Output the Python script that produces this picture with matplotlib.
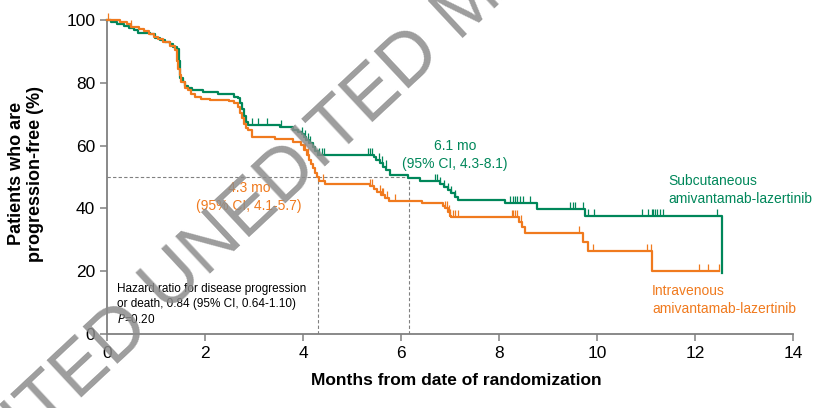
import numpy as np
import matplotlib
matplotlib.use("Agg")
import matplotlib.pyplot as plt

plt.rcParams['font.family'] = ['Liberation Sans', 'DejaVu Sans']

GREEN = '#00875a'
ORANGE = '#f07a1e'

# subcutaneous arm: step times (months) and % progression-free after each step
sc_t = [0, 0.08, 0.2, 0.35, 0.45, 0.55, 0.63, 0.88, 0.98, 1.08, 1.18, 1.28, 1.35, 1.43,
        1.46, 1.48, 1.5, 1.55, 1.6, 1.65, 1.73, 1.95, 2.27, 2.6, 2.67, 2.72, 2.76, 2.8,
        2.84, 2.88, 3.53, 3.8, 3.9, 3.97, 4.02, 4.07, 4.12, 4.2, 4.25, 4.31, 5.45, 5.5,
        5.57, 5.63, 5.7, 5.78, 6.15, 6.39, 6.8, 6.87, 6.95, 7.03, 7.1, 7.17, 8.12, 8.77,
        9.76, 12.56]
sc_s = [100, 99.3, 98.8, 98.2, 97.6, 96.8, 95.9, 95.4, 94.2, 93.6, 93.0, 92.2, 91.5, 90.8,
        87, 84, 81.5, 80.4, 79, 78.3, 77.7, 77.2, 76.3, 75.6, 75, 73.5, 71.5, 69.5,
        67.5, 66.4, 65.8, 65.0, 64.4, 63.7, 62.8, 61.8, 60.7, 59.6, 58.3, 57.0, 56.4, 55.4,
        54.4, 53.3, 52.2, 50.6, 49.6, 48.6, 47.8, 46.9, 45.9, 44.8, 43.7, 42.7, 41.6, 39.7,
        37.6, 19.3]
sc_end = 12.56
sc_cens = [2.95, 3.09, 3.26, 3.56, 3.97, 4.04, 4.11, 4.14, 4.33, 4.38, 4.42, 5.33, 5.37, 5.4,
           5.55, 5.62, 5.69, 6.69, 6.73, 6.8, 6.87, 6.95, 7.03, 7.1, 8.22, 8.29, 8.33, 8.36,
           8.43, 8.5, 8.63, 9.45, 9.52, 9.55, 9.72, 9.82, 9.93, 10.91, 11.05, 11.12, 11.15,
           11.18, 11.22, 11.29, 11.35, 12.44]

# intravenous arm
iv_t = [0, 0.27, 0.4, 0.5, 0.65, 0.75, 0.85, 0.95, 1.05, 1.15, 1.28, 1.38, 1.43, 1.45, 1.48,
        1.52, 1.6, 1.65, 1.72, 1.8, 1.92, 2.1, 2.5, 2.6, 2.67, 2.72, 2.76, 2.8, 2.84, 2.88,
        2.95, 3.43, 3.8, 3.95, 4.02, 4.08, 4.12, 4.17, 4.2, 4.25, 4.28, 4.33, 4.45, 5.37,
        5.45, 5.52, 5.6, 5.68, 5.75, 6.42, 6.85, 6.9, 6.95, 7.0, 7.03, 8.4, 8.47, 8.53, 9.72,
        9.82, 11.13]
iv_s = [100, 99.3, 98.6, 97.8, 97.2, 96.5, 95.5, 94.6, 93.8, 93.0, 91.8, 90.4, 87, 84.5, 82.5,
        80.4, 78.5, 77.7, 76.3, 75.6, 74.8, 74.5, 74.2, 73.5, 72.4, 70.5, 68.7, 67, 65.5, 65,
        62.8, 62.0, 61.3, 60.2, 58.6, 57, 55.4, 54.2, 52.8, 51.4, 50.1, 48.6, 47.8, 47.1,
        46.2, 45.3, 44.3, 43.2, 42.5, 41.6, 40.8, 40.0, 38.8, 37.6, 37.1, 35.6, 34.0, 32.3, 29.4,
        26.4, 20.2]
iv_end = 12.5
iv_cens = [0.02, 0.5, 4.04, 4.1, 4.41, 5.37, 5.4, 5.57, 5.61, 5.64, 5.71, 5.88, 6.9, 6.93,
           6.97, 7.0, 7.07, 7.1, 7.17, 8.26, 8.29, 8.33, 8.36, 8.45, 9.63, 9.92, 11.03, 11.1,
           12.09, 12.27, 12.5]

median_iv = 4.3
median_sc = 6.17


def surv_at(t, s, x):
    idx = np.searchsorted(t, x, side='right') - 1
    return np.array(s)[idx]


fig = plt.figure(figsize=(8.13, 4.08), dpi=100)
ax = fig.add_axes([0.1316, 0.1814, 0.8438, 0.7696])

for t, s, end, cens, col in [(sc_t, sc_s, sc_end, sc_cens, GREEN),
                             (iv_t, iv_s, iv_end, iv_cens, ORANGE)]:
    tt = list(t) + [end]
    ss = list(s) + [s[-1]]
    ax.step(tt, ss, where='post', color=col, lw=1.6, clip_on=False, zorder=3)
    ax.plot(cens, surv_at(t, s, cens), ls='none', marker=2, ms=5, mew=0.9,
            color=col, clip_on=False, zorder=3)

# medians
dash = dict(color='#808080', lw=0.8, ls=(0, (3, 2)), zorder=2)
ax.plot([0, median_sc], [50, 50], **dash)
ax.plot([median_iv, median_iv], [0, 50], **dash)
ax.plot([median_sc, median_sc], [0, 50], **dash)

ax.set_xlim(0, 14)
ax.set_ylim(0, 100)
ax.set_xticks(range(0, 15, 2))
ax.set_yticks(range(0, 101, 20))
for sp in ['top', 'right']:
    ax.spines[sp].set_visible(False)
for sp in ['left', 'bottom']:
    ax.spines[sp].set_color('#808080')
    ax.spines[sp].set_linewidth(1.3)
ax.tick_params(colors='#808080', width=1.1, length=5, labelsize=12.5, labelcolor='black')

ax.set_xlabel('Months from date of randomization', fontsize=12.5, fontweight='bold')
ax.xaxis.set_label_coords(0.509, -0.125)
ax.set_ylabel('Patients who are\nprogression-free (%)', fontsize=13, fontweight='bold',
              linespacing=1.15)
ax.yaxis.set_label_coords(-0.092, 0.51)

ax.text(7.1, 57, '6.1 mo\n(95% CI, 4.3-8.1)', color=GREEN, fontsize=10, ha='center',
        va='center', linespacing=1.3)
ax.text(2.9, 43.6, '4.3 mo\n(95% CI, 4.1-5.7)', color=ORANGE, fontsize=10, ha='center',
        va='center', linespacing=1.3)
ax.text(11.45, 45.9, 'Subcutaneous\namivantamab-lazertinib', color=GREEN, fontsize=10,
        ha='left', va='center', linespacing=1.3, clip_on=False)
ax.text(11.12, 10.8, 'Intravenous\namivantamab-lazertinib', color=ORANGE, fontsize=10,
        ha='left', va='center', linespacing=1.3, clip_on=False)
ax.text(0.2, 16.3, 'Hazard ratio for disease progression\nor death, 0.84 (95% CI, 0.64-1.10)\n'
        '$\\it{P}$=0.20', fontsize=8.5, ha='left', va='top', linespacing=1.3)

# diagonal watermark, placed from the centre of the second "U" (pixels from top-left)
W, H = 813, 408
ang = 43
em = 74
fs = em * 72 / 100
a = np.radians(ang)
d = np.array([np.cos(a), np.sin(a)])      # along the text, y up
u = np.array([-np.sin(a), np.cos(a)])     # towards letter tops, y up
u_center = np.array([168, H - 276])
anchor = u_center - 0.361 * em * d - 0.358 * em * u
wm = dict(fontsize=fs, color='#8c8c8c', alpha=0.85, rotation=ang, rotation_mode='anchor',
          va='baseline', zorder=10, family='Liberation Sans')
fig.text(anchor[0] / W, anchor[1] / H, 'UNEDITED MANUSCRIPT', ha='left', **wm)
back = anchor - 0.278 * em * d
fig.text(back[0] / W, back[1] / H, 'UNEDITED', ha='right', **wm)

fig.savefig('out.png', dpi=100)
